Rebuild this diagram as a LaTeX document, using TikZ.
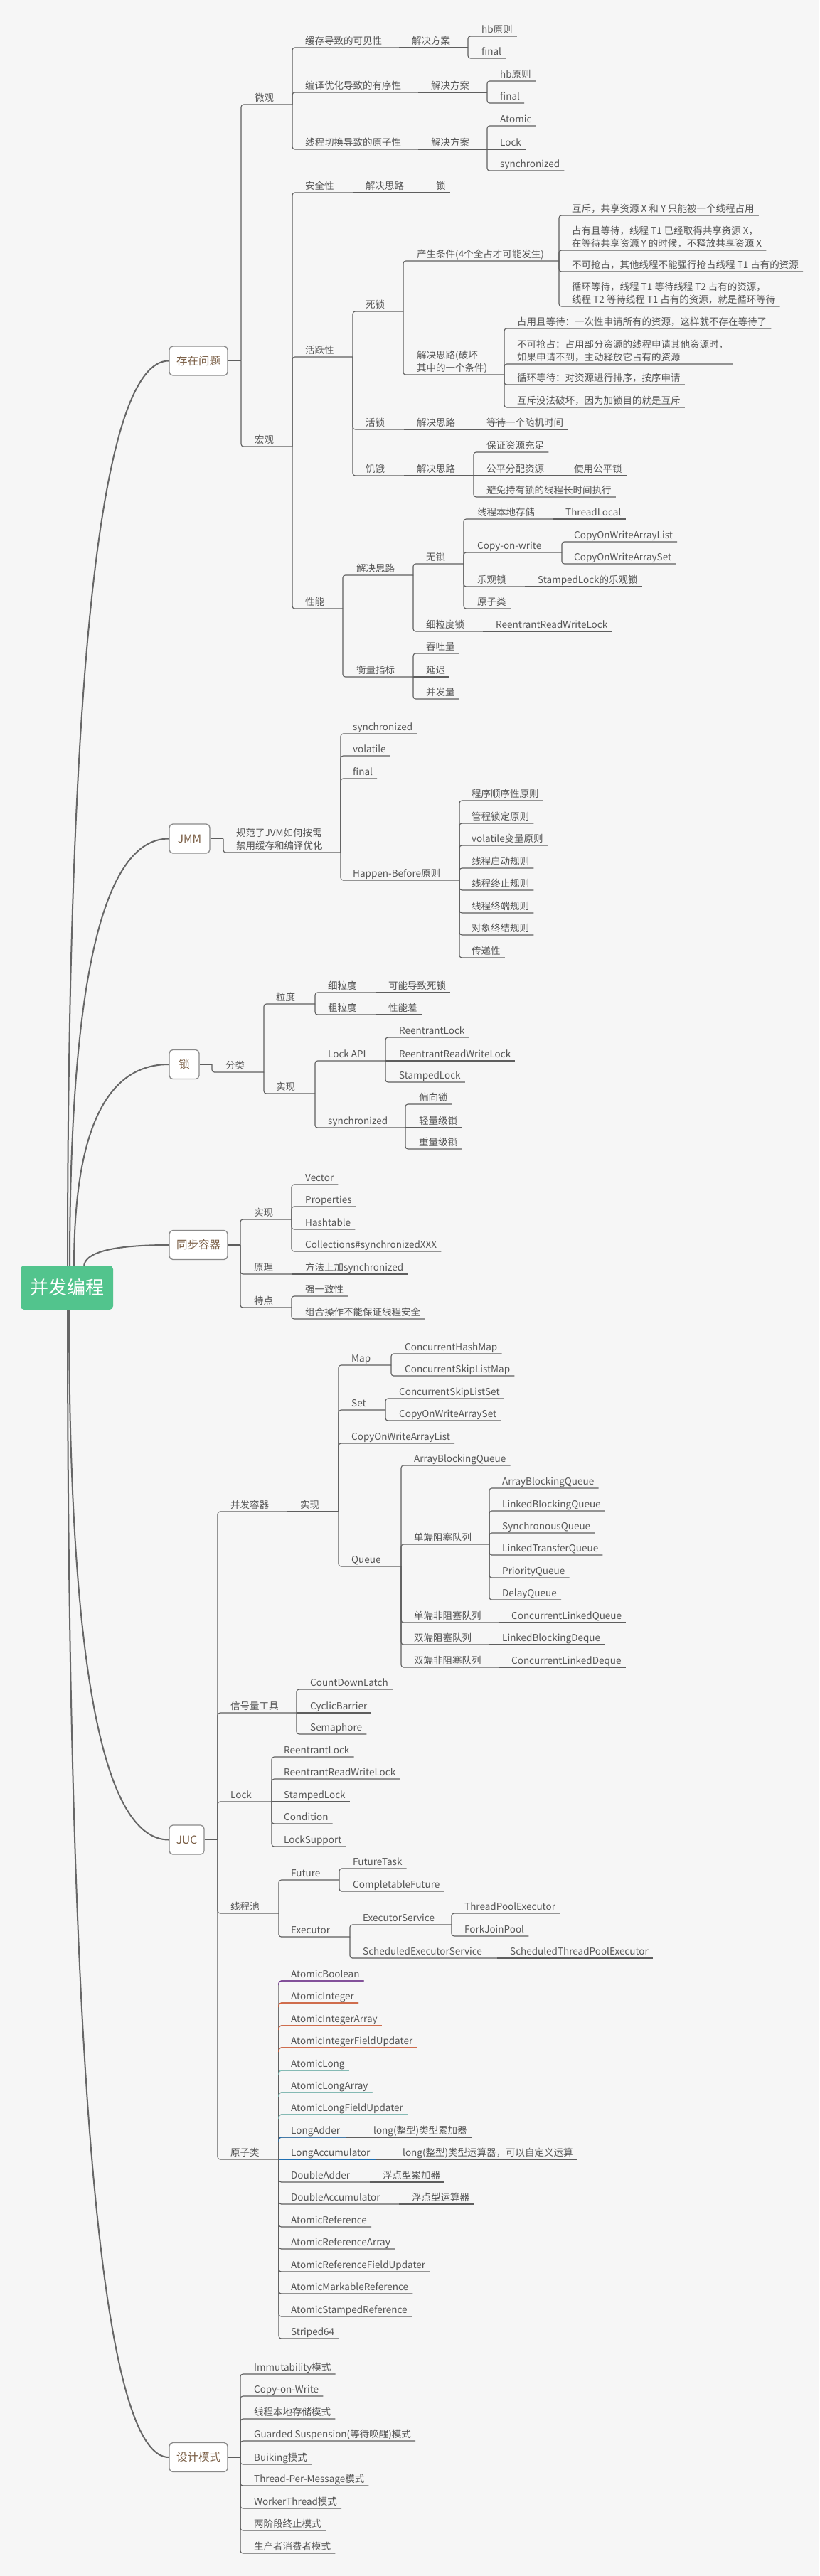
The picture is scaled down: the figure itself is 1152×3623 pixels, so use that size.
\documentclass[tikz,border=0pt]{standalone}
\usepackage{fontspec}
\setmainfont{Noto Sans CJK SC}
\usetikzlibrary{calc}
\definecolor{bg}{HTML}{F6F6F6}
\definecolor{txt}{HTML}{555555}
\definecolor{lnc}{HTML}{5E5E5E}
\definecolor{rlc}{HTML}{666666}
\definecolor{rootg}{HTML}{52C48D}
\definecolor{mtxt}{HTML}{7A5E45}
\definecolor{mbd}{HTML}{8A8A8A}
\definecolor{cpur}{HTML}{7B2F9E}
\definecolor{cora}{HTML}{F05A28}
\definecolor{cteal}{HTML}{7FD0C6}
\definecolor{cblue}{HTML}{1F6FB2}
\tikzset{
 tp/.style={anchor=south west, inner xsep=6pt, inner ysep=0pt, text height=11pt, text depth=4.5pt, font=\fontsize{13.5}{18}\selectfont, text=txt},
 ln/.style={draw=lnc, line width=1.1pt, rounded corners=3.5pt},
 rl/.style={draw=rlc, line width=2pt},
 mainnode/.style={draw=mbd, line width=1.3pt, fill=white, rounded corners=5pt, minimum height=41pt, inner xsep=3pt, font=\fontsize{15.5}{18}\selectfont, text=mtxt},
 rootnode/.style={fill=rootg, rounded corners=5pt, minimum width=130pt, minimum height=62pt, text=white, font=\fontsize{26}{30}\selectfont}
}
\newcommand\ml[2]{\begin{tabular}[b]{@{}l@{}}#1\\#2\end{tabular}}
\newcommand\tpB[6]{\node[tp] (#2) at (#3-6,#4) {#6};\coordinate (#2j) at (#5,#4);\draw[ln] (#1) |- (#2j);}
\newcommand\tpL[5]{\node[tp] (#2) at (#3-6,#4) {#5};\draw[ln] (#1) |- (#2.south east);}
\newcommand\tpBs[6]{\node[tp] (#2) at (#3-6,#4) {#6};\coordinate (#2j) at (#5,#4);\draw[ln] (#1) -- (#2j);}
\newcommand\tpLs[5]{\node[tp] (#2) at (#3-6,#4) {#5};\draw[ln] (#1) -- (#2.south east);}
\newcommand\rcurve[2]{\draw[rl] (#1) .. controls ($(#1)!0.667!(#1|-#2)$) and ($(#2)!0.667!(#1|-#2)$) .. (#2);}
\begin{document}
\begin{tikzpicture}[x=1pt,y=-1pt]
\useasboundingbox[fill=bg] (0,0) rectangle (1152,3623);
% main nodes
\node[mainnode, minimum width=82pt] (m1) at (279,507.5) {存在问题};
\node[mainnode, minimum width=57pt] (m2) at (266.5,1179.5) {JMM};
\node[mainnode, minimum width=42pt] (m3) at (259,1497) {锁};
\node[mainnode, minimum width=82pt] (m4) at (279,1751) {同步容器};
\node[mainnode, minimum width=49pt] (m5) at (262.5,2587.5) {JUC};
\node[mainnode, minimum width=82pt] (m6) at (279,3456) {设计模式};
% root curves
\coordinate (rs1) at (95,1782);
\coordinate (rs2) at (98,1782);
\coordinate (rs3) at (104,1782);
\coordinate (rs4) at (118,1782);
\coordinate (rs5) at (97,1841);
\coordinate (rs6) at (95,1841);
\rcurve{rs1}{m1.west}
\rcurve{rs2}{m2.west}
\rcurve{rs3}{m3.west}
\rcurve{rs4}{m4.west}
\rcurve{rs5}{m5.west}
\rcurve{rs6}{m6.west}
\node[rootnode] (root) at (94,1811) {并发编程};
% ===== 存在问题
\coordinate (J1) at (339,507.5);
\draw[ln] (m1.east) -- (J1);
\tpB{J1}{wg}{358}{147}{411}{微观}
\tpB{wgj}{kj}{429}{67}{561}{缓存导致的可见性}
\tpBs{kjj}{kja}{579}{67}{658}{解决方案}
\tpL{kjaj}{kjb}{677}{51}{hb原则}
\tpL{kjaj}{kjc}{677}{82}{final}
\tpB{wgj}{yx}{429}{130}{588}{编译优化导致的有序性}
\tpBs{yxj}{yxa}{606}{130}{685}{解决方案}
\tpL{yxaj}{yxb}{703}{114}{hb原则}
\tpL{yxaj}{yxc}{703}{145}{final}
\tpB{wgj}{yz}{429}{210}{588}{线程切换导致的原子性}
\tpBs{yzj}{yza}{606}{210}{685}{解决方案}
\tpL{yzaj}{yzb}{703}{177}{Atomic}
\tpLs{yzaj}{yzc}{703}{210}{Lock}
\tpL{yzaj}{yzd}{703}{240}{synchronized}
\tpB{J1}{hg}{358}{628}{411}{宏观}
\tpB{hgj}{aq}{429}{271}{496}{安全性}
\tpBs{aqj}{aqa}{514}{271}{595}{解决思路}
\tpLs{aqaj}{aqb}{613}{271}{锁}
\tpB{hgj}{hy}{429}{502}{496}{活跃性}
\tpB{hyj}{sl}{514}{438}{567}{死锁}
\tpB{slj}{cs}{586}{367}{786}{产生条件(4个全占才可能发生)}
\tpL{csj}{csa}{804}{303}{互斥，共享资源 X 和 Y 只能被一个线程占用}
\tpL{csj}{csb}{804}{352}{\ml{占有且等待，线程 T1 已经取得共享资源 X，}{在等待共享资源 Y 的时候，不释放共享资源 X}}
\tpL{csj}{csc}{804}{382}{不可抢占，其他线程不能强行抢占线程 T1 占有的资源}
\tpL{csj}{csd}{804}{431}{\ml{循环等待，线程 T1 等待线程 T2 占有的资源，}{线程 T2 等待线程 T1 占有的资源，就是循环等待}}
\tpB{slj}{pj}{586}{527}{709}{\ml{解决思路(破坏}{其中的一个条件)}}
\tpL{pjj}{pja}{727}{462}{占用且等待：一次性申请所有的资源，这样就不存在等待了}
\tpL{pjj}{pjb}{727}{512}{\ml{不可抢占：占用部分资源的线程申请其他资源时，}{如果申请不到，主动释放它占有的资源}}
\tpL{pjj}{pjc}{727}{541}{循环等待：对资源进行排序，按序申请}
\tpL{pjj}{pjd}{727}{573}{互斥没法破坏，因为加锁目的就是互斥}
\tpB{hyj}{hs}{514}{604}{568}{活锁}
\tpBs{hsj}{hsa}{586}{604}{666}{解决思路}
\tpLs{hsaj}{hsb}{684}{604}{等待一个随机时间}
\tpB{hyj}{je}{514}{669}{568}{饥饿}
\tpBs{jej}{jea}{586}{669}{666}{解决思路}
\tpL{jeaj}{jeb}{684}{636}{保证资源充足}
\tpBs{jeaj}{jec}{684}{669}{789}{公平分配资源}
\tpLs{jecj}{jed}{807}{669}{使用公平锁}
\tpL{jeaj}{jee}{684}{699}{避免持有锁的线程长时间执行}
\tpB{hgj}{xn}{429}{856}{482}{性能}
\tpB{xnj}{xna}{501}{809}{581}{解决思路}
\tpB{xnaj}{ws}{599}{793}{652}{无锁}
\tpB{wsj}{wsa}{671}{730}{777}{线程本地存储}
\tpLs{wsaj}{wsb}{795}{730}{ThreadLocal}
\tpB{wsj}{cw}{671}{777}{790}{Copy-on-write}
\tpL{cwj}{cwa}{807}{762}{CopyOnWriteArrayList}
\tpL{cwj}{cwb}{807}{793}{CopyOnWriteArraySet}
\tpB{wsj}{lg}{671}{825}{738}{乐观锁}
\tpLs{lgj}{lga}{756}{825}{StampedLock的乐观锁}
\tpL{wsj}{yzl}{671}{856}{原子类}
\tpB{xnaj}{xl}{599}{888}{679}{细粒度锁}
\tpLs{xlj}{xla}{697}{888}{ReentrantReadWriteLock}
\tpB{xnj}{hl}{501}{952}{581}{衡量指标}
\tpL{hlj}{hla}{599}{919}{吞吐量}
\tpLs{hlj}{hlb}{599}{952}{延迟}
\tpL{hlj}{hlc}{599}{983}{并发量}
% ===== JMM
\coordinate (J2) at (314,1179.5);
\draw[ln] (m2.east) -- (J2);
\tpB{J2}{gf}{332}{1199}{479}{\ml{规范了JVM如何按需}{禁用缓存和编译优化}}
\tpL{gfj}{gfa}{496}{1032}{synchronized}
\tpL{gfj}{gfb}{496}{1063}{volatile}
\tpL{gfj}{gfc}{496}{1095}{final}
\tpB{gfj}{hb}{496}{1238}{646}{Happen-Before原则}
\tpL{hbj}{hba}{663}{1126}{程序顺序性原则}
\tpL{hbj}{hbb}{663}{1158}{管程锁定原则}
\tpL{hbj}{hbc}{663}{1189}{volatile变量原则}
\tpL{hbj}{hbd}{663}{1221}{线程启动规则}
\tpL{hbj}{hbe}{663}{1252}{线程终止规则}
\tpL{hbj}{hbf}{663}{1284}{线程终端规则}
\tpL{hbj}{hbg}{663}{1315}{对象终结规则}
\tpL{hbj}{hbh}{663}{1347}{传递性}
% ===== 锁
\coordinate (J3) at (298,1497);
\draw[ln] (m3.east) -- (J3);
\tpB{J3}{fl}{317}{1508}{371}{分类}
\tpB{flj}{ld}{388}{1412}{443}{粒度}
\tpB{ldj}{ldx}{461}{1396}{528}{细粒度}
\tpLs{ldxj}{ldxa}{546}{1396}{可能导致死锁}
\tpB{ldj}{ldc}{461}{1427}{528}{粗粒度}
\tpLs{ldcj}{ldca}{546}{1427}{性能差}
\tpB{flj}{sx}{388}{1538}{443}{实现}
\tpB{sxj}{la}{461}{1492}{542}{Lock API}
\tpL{laj}{laa}{561}{1459}{ReentrantLock}
\tpLs{laj}{lab}{561}{1492}{ReentrantReadWriteLock}
\tpL{laj}{lac}{561}{1522}{StampedLock}
\tpB{sxj}{sy}{461}{1586}{570}{synchronized}
\tpL{syj}{sya}{589}{1553}{偏向锁}
\tpLs{syj}{syb}{589}{1586}{轻量级锁}
\tpL{syj}{syc}{589}{1616}{重量级锁}
% ===== 同步容器
\coordinate (J4) at (338,1751);
\draw[ln] (m4.east) -- (J4);
\tpB{J4}{tsx}{357}{1715}{410}{实现}
\tpL{tsxj}{va}{429}{1666}{Vector}
\tpL{tsxj}{vb}{429}{1697}{Properties}
\tpL{tsxj}{vc}{429}{1729}{Hashtable}
\tpL{tsxj}{vd}{429}{1760}{Collections\#synchronizedXXX}
\tpB{J4}{yl}{357}{1792}{410}{原理}
\tpLs{ylj}{yla}{429}{1792}{方法上加synchronized}
\tpB{J4}{td}{357}{1839}{410}{特点}
\tpL{tdj}{tda}{429}{1823}{强一致性}
\tpL{tdj}{tdb}{429}{1855}{组合操作不能保证线程安全}
% ===== JUC
\coordinate (J5) at (306,2587.5);
\draw[ln] (m5.east) -- (J5);
\tpB{J5}{bf}{324}{2126}{404}{并发容器}
\tpBs{bfj}{bfs}{422}{2126}{476}{实现}
\tpB{bfsj}{mp}{494}{1920}{550}{Map}
\tpL{mpj}{mpa}{569}{1904}{ConcurrentHashMap}
\tpL{mpj}{mpb}{569}{1935}{ConcurrentSkipListMap}
\tpB{bfsj}{st}{494}{1983}{542}{Set}
\tpL{stj}{sta}{561}{1967}{ConcurrentSkipListSet}
\tpL{stj}{stb}{561}{1998}{CopyOnWriteArraySet}
\tpL{bfsj}{cal}{494}{2030}{CopyOnWriteArrayList}
\tpB{bfsj}{qu}{494}{2203}{564}{Queue}
\tpL{quj}{qua}{582}{2061}{ArrayBlockingQueue}
\tpB{quj}{dz}{582}{2172}{688}{单端阻塞队列}
\tpL{dzj}{dza}{706}{2093}{ArrayBlockingQueue}
\tpL{dzj}{dzb}{706}{2125}{LinkedBlockingQueue}
\tpL{dzj}{dzc}{706}{2156}{SynchronousQueue}
\tpL{dzj}{dzd}{706}{2187}{LinkedTransferQueue}
\tpL{dzj}{dze}{706}{2219}{PriorityQueue}
\tpL{dzj}{dzf}{706}{2250}{DelayQueue}
\tpB{quj}{dfz}{582}{2282}{701}{单端非阻塞队列}
\tpLs{dfzj}{dfza}{719}{2282}{ConcurrentLinkedQueue}
\tpB{quj}{sz}{582}{2313}{688}{双端阻塞队列}
\tpLs{szj}{sza}{706}{2313}{LinkedBlockingDeque}
\tpB{quj}{sfz}{582}{2345}{701}{双端非阻塞队列}
\tpLs{sfzj}{sfza}{719}{2345}{ConcurrentLinkedDeque}
\tpB{J5}{xh}{324}{2409}{417}{信号量工具}
\tpL{xhj}{xha}{436}{2376}{CountDownLatch}
\tpLs{xhj}{xhb}{436}{2409}{CyclicBarrier}
\tpL{xhj}{xhc}{436}{2439}{Semaphore}
\tpB{J5}{lk}{324}{2534}{382}{Lock}
\tpL{lkj}{lka}{399}{2471}{ReentrantLock}
\tpL{lkj}{lkb}{399}{2502}{ReentrantReadWriteLock}
\tpLs{lkj}{lkc}{399}{2534}{StampedLock}
\tpL{lkj}{lkd}{399}{2565}{Condition}
\tpL{lkj}{lke}{399}{2597}{LockSupport}
\tpB{J5}{xc}{324}{2691}{392}{线程池}
\tpB{xcj}{fu}{409}{2644}{477}{Future}
\tpL{fuj}{fua}{496}{2628}{FutureTask}
\tpL{fuj}{fub}{496}{2660}{CompletableFuture}
\tpB{xcj}{ex}{409}{2724}{492}{Executor}
\tpB{exj}{es}{510}{2707}{635}{ExecutorService}
\tpL{esj}{esa}{653}{2691}{ThreadPoolExecutor}
\tpL{esj}{esb}{653}{2723}{ForkJoinPool}
\tpB{exj}{ses}{510}{2754}{699}{ScheduledExecutorService}
\tpLs{sesj}{sesa}{717}{2754}{ScheduledThreadPoolExecutor}
\tpB{J5}{at}{324}{3037}{392}{原子类}
\tpL{atj}{ata}{409}{2786}{AtomicBoolean}
\tpL{atj}{atb}{409}{2817}{AtomicInteger}
\tpL{atj}{atc}{409}{2849}{AtomicIntegerArray}
\tpL{atj}{atd}{409}{2880}{AtomicIntegerFieldUpdater}
\tpL{atj}{ate}{409}{2912}{AtomicLong}
\tpL{atj}{atf}{409}{2943}{AtomicLongArray}
\tpL{atj}{atg}{409}{2974}{AtomicLongFieldUpdater}
\tpB{atj}{lad}{409}{3006}{487}{LongAdder}
\tpLs{ladj}{lada}{525}{3006}{long(整型)类型累加器}
\tpBs{atj}{lcc}{409}{3037}{528}{LongAccumulator}
\tpLs{lccj}{lcca}{566}{3037}{long(整型)类型运算器，可以自定义运算}
\tpB{atj}{dad}{409}{3069}{520}{DoubleAdder}
\tpLs{dadj}{dada}{538}{3069}{浮点型累加器}
\tpB{atj}{dac}{409}{3100}{561}{DoubleAccumulator}
\tpLs{dacj}{daca}{579}{3100}{浮点型运算器}
\tpL{atj}{ara}{409}{3132}{AtomicReference}
\tpL{atj}{arb}{409}{3163}{AtomicReferenceArray}
\tpL{atj}{arc}{409}{3195}{AtomicReferenceFieldUpdater}
\tpL{atj}{ard}{409}{3226}{AtomicMarkableReference}
\tpL{atj}{are}{409}{3258}{AtomicStampedReference}
\tpL{atj}{arf}{409}{3289}{Striped64}
% coloured underlines
\draw[ln,draw=cpur] ($(atj|-ata.south)+(0,6)$) |- (ata.south east);
\draw[ln,draw=cora] ($(atj|-atb.south)+(0,6)$) |- (atb.south east);
\draw[ln,draw=cora] ($(atj|-atc.south)+(0,6)$) |- (atc.south east);
\draw[ln,draw=cora] ($(atj|-atd.south)+(0,6)$) |- (atd.south east);
\draw[ln,draw=cteal] ($(atj|-ate.south)+(0,6)$) |- (ate.south east);
\draw[ln,draw=cteal] ($(atj|-atf.south)+(0,6)$) |- (atf.south east);
\draw[ln,draw=cteal] ($(atj|-atg.south)+(0,6)$) |- (atg.south east);
\draw[ln,draw=cblue] ($(atj|-ladj)+(0,6)$) |- (ladj);
\draw[ln,draw=cblue] (atj) -- (lccj);
% ===== 设计模式
\coordinate (J6) at (338,3456);
\draw[ln] (m6.east) -- (J6);
\tpL{J6}{pa}{357}{3339}{Immutability模式}
\tpL{J6}{pb}{357}{3370}{Copy-on-Write}
\tpL{J6}{pc}{357}{3402}{线程本地存储模式}
\tpL{J6}{pd}{357}{3433}{Guarded Suspension(等待唤醒)模式}
\tpL{J6}{pe}{357}{3466}{Buiking模式}
\tpL{J6}{pf}{357}{3496}{Thread-Per-Message模式}
\tpL{J6}{pg}{357}{3528}{WorkerThread模式}
\tpL{J6}{ph}{357}{3559}{两阶段终止模式}
\tpL{J6}{pi}{357}{3591}{生产者消费者模式}
\end{tikzpicture}
\end{document}
